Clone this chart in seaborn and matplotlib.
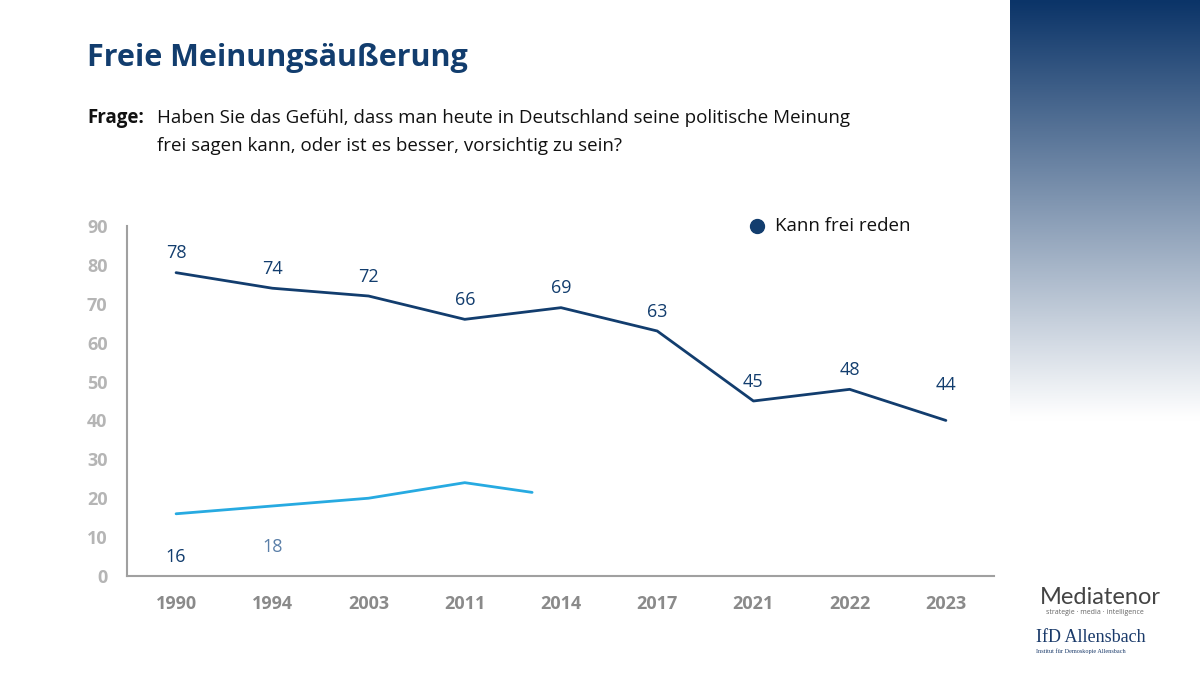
import numpy as np
import matplotlib
matplotlib.use("Agg")
import matplotlib.pyplot as plt
from matplotlib.lines import Line2D
import seaborn as sns
import pandas as pd

years = ["1990", "1994", "2003", "2011", "2014", "2017", "2021", "2022", "2023"]
kann_frei = [78, 74, 72, 66, 69, 63, 45, 48, 40]
label_vals = ["78", "74", "72", "66", "69", "63", "45", "48", "44"]
vorsichtig_pos = [0, 1, 2, 3, 3.7]
vorsichtig = [16, 18, 20, 24, 21.5]
low_labels = ["16", "18"]

sns.set_theme(style="white")
plt.rcParams['font.family'] = ['Open Sans', 'DejaVu Sans']

DARK = "#123d6e"
LIGHT = "#27aae1"

fig = plt.figure(figsize=(12, 6.75), dpi=100)
gax = fig.add_axes([1010/1200, 0, 190/1200, 1])
grad = np.linspace(0, 1, 256).reshape(-1, 1)
from matplotlib.colors import LinearSegmentedColormap
cmap = LinearSegmentedColormap.from_list("g", [(0, "#0b3468"), (0.62, "#ffffff"), (1, "#ffffff")])
gax.imshow(grad, aspect="auto", cmap=cmap, extent=[0, 1, 0, 1], origin="upper")
gax.axis("off")

ax = fig.add_axes([127/1200, 1-576/675, (994-127)/1200, (576-226)/675])
df = pd.DataFrame({"x": range(len(years)), "y": kann_frei})
sns.lineplot(data=df, x="x", y="y", ax=ax, color=DARK, linewidth=2)
df2 = pd.DataFrame({"x": vorsichtig_pos, "y": vorsichtig})
sns.lineplot(data=df2, x="x", y="y", ax=ax, color=LIGHT, linewidth=2)

for i, (v, t) in enumerate(zip(kann_frei, label_vals)):
    ax.text(i, v + 5 + (4 if i == 8 else 0), t, ha="center", va="center", color=DARK, fontsize=13)
ax.text(0, 5, low_labels[0], ha="center", va="center", color=DARK, fontsize=13)
ax.text(1, 7.5, low_labels[1], ha="center", va="center", color="#5a7fa8", fontsize=13)

ax.set_xlim(-0.51, 8.5)
ax.set_ylim(0, 90)
ax.set_yticks(range(0, 91, 10))
ax.set_xticks(range(len(years)))
ax.set_xticklabels(years)
ax.set_xlabel("")
ax.set_ylabel("")
ax.tick_params(axis="y", colors="#b5b5b5", labelsize=13, length=0, pad=14)
ax.tick_params(axis="x", colors="#8a8a8a", labelsize=13, length=0, pad=14)
for l in ax.get_yticklabels() + ax.get_xticklabels():
    l.set_fontweight("bold")
for s in ["top", "right"]:
    ax.spines[s].set_visible(False)
for s in ["left", "bottom"]:
    ax.spines[s].set_color("#a0a0a0")
    ax.spines[s].set_linewidth(1.5)

fig.text(87/1200, 1-58/675, "Freie Meinungsäußerung", fontsize=22, fontweight="bold", color=DARK, va="center")
fig.text(87/1200, 1-118/675, "Frage:", fontsize=13.5, fontweight="bold", color="#111111", va="center")
fig.text(157/1200, 1-118/675, "Haben Sie das Gefühl, dass man heute in Deutschland seine politische Meinung", fontsize=13.5, color="#111111", va="center")
fig.text(157/1200, 1-146/675, "frei sagen kann, oder ist es besser, vorsichtig zu sein?", fontsize=13.5, color="#111111", va="center")

fig.add_artist(Line2D([757/1200], [1-226/675], marker="o", markersize=10, color=DARK, linestyle="none", transform=fig.transFigure))
fig.text(775/1200, 1-226/675, "Kann frei reden", fontsize=13.5, color="#111111", va="center")

fig.text(1040/1200, 1-598/675, "Mediatenor", fontsize=17, color="#444444", va="center", family=["Lato", "DejaVu Sans"])
fig.text(1046/1200, 1-613/675, "strategie · media · intelligence", fontsize=5, color="#666666", va="center")
fig.text(1036/1200, 1-637/675, "IfD Allensbach", fontsize=13, color="#1a3a6a", va="center", family=["Liberation Serif", "DejaVu Serif"])
fig.text(1036/1200, 1-651/675, "Institut für Demoskopie Allensbach", fontsize=4.5, color="#1a3a6a", va="center", family=["Liberation Serif", "DejaVu Serif"])

fig.savefig("out.png", dpi=100)
